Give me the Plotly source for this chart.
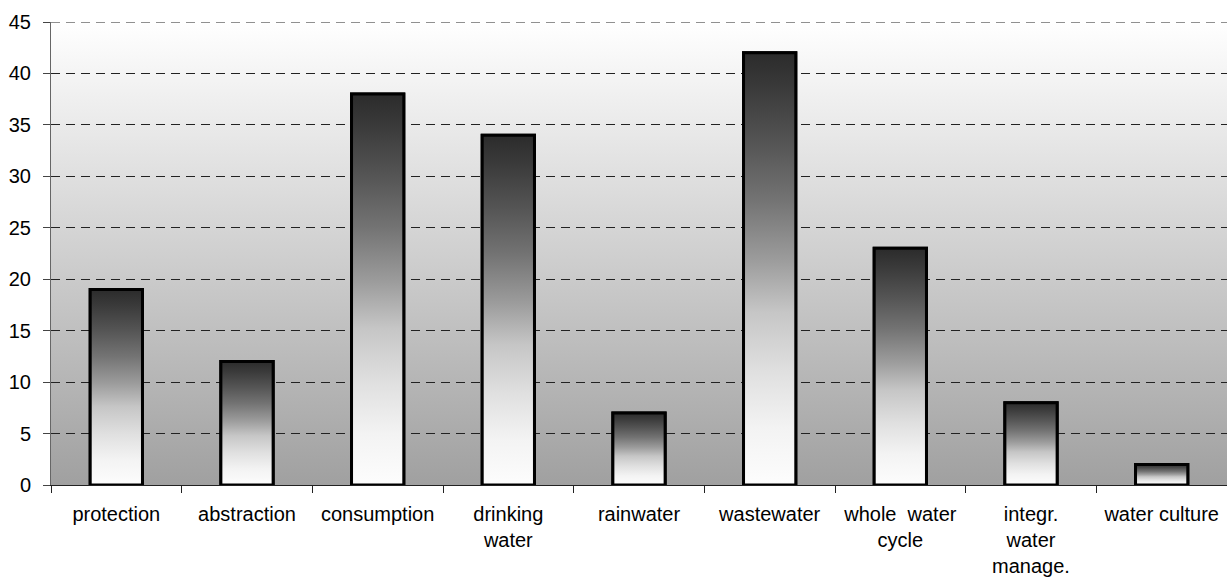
import base64
import plotly.graph_objects as go

categories = ["protection", "abstraction", "consumption", "drinking<br>water", "rainwater",
              "wastewater", "whole  water<br>cycle", "integr.<br>water<br>manage.", "water culture"]
values = [19, 12, 38, 34, 7, 42, 23, 8, 2]
y_ticks = [0, 5, 10, 15, 20, 25, 30, 35, 40, 45]

FONT = dict(family="Liberation Sans, Arial, sans-serif", size=20, color="black")
HALF = 0.2  # half bar width in category units

bar_scale = [[0.0, "#fdfdfd"], [0.13, "#f3f3f3"], [0.26, "#e0e0e0"], [0.40, "#c6c6c6"],
             [0.52, "#9c9c9c"], [0.66, "#737373"], [0.79, "#555555"], [0.92, "#3a3a3a"],
             [1.0, "#2b2b2b"]]

fig = go.Figure()
xs = list(range(len(categories)))

# bar outlines (library bars)
fig.add_trace(go.Bar(x=xs, y=values, width=2 * HALF,
                     marker=dict(color="rgba(0,0,0,0)", line=dict(color="black", width=3)),
                     showlegend=False, cliponaxis=False))

# gradient fill for each bar (one trace per bar so gradient spans 0..value)
for i, v in zip(xs, values):
    fig.add_trace(go.Scatter(
        x=[i - HALF, i - HALF, i + HALF, i + HALF, i - HALF],
        y=[0, v, v, 0, 0],
        mode="lines", fill="toself", line=dict(width=3, color="black"),
        fillgradient=dict(type="vertical", colorscale=bar_scale, start=0, stop=v),
        hoverinfo="skip", showlegend=False, cliponaxis=False))

svg = ('<svg xmlns="http://www.w3.org/2000/svg" width="100" height="100" preserveAspectRatio="none">'
       '<defs><linearGradient id="g" x1="0" y1="0" x2="0" y2="1">'
       '<stop offset="0" stop-color="#ffffff"/><stop offset="1" stop-color="#a0a0a0"/>'
       '</linearGradient></defs><rect width="100" height="100" fill="url(#g)"/></svg>')
src = "data:image/svg+xml;base64," + base64.b64encode(svg.encode()).decode()

fig.update_layout(
    width=1227, height=579,
    margin=dict(l=51, r=0, t=22, b=94, autoexpand=False),
    paper_bgcolor="white", plot_bgcolor="rgba(0,0,0,0)",
    font=FONT,
    images=[dict(source=src, xref="paper", yref="paper", x=0, y=1, sizex=1, sizey=1,
                 sizing="stretch", layer="below", xanchor="left", yanchor="top")],
    shapes=[dict(type="line", xref="paper", x0=0, x1=1, yref="y", y0=y_ticks[-1], y1=y_ticks[-1],
                 line=dict(color="#222", width=1, dash="9px,6px"), layer="below")],
    xaxis=dict(range=[-0.5, len(categories) - 0.5], tickmode="array", tickvals=xs,
               ticktext=categories, ticks="", showgrid=False, zeroline=False,
               showline=True, linecolor="#222", linewidth=1, ticklabelstandoff=11,
               automargin=False,
               minor=dict(tick0=-0.5, dtick=1, ticks="outside", ticklen=7,
                          tickcolor="#222", showgrid=False),
               fixedrange=True),
    yaxis=dict(range=[0, 45], tickmode="array", tickvals=y_ticks, ticks="outside",
               ticklen=7, tickcolor="#444", showline=True, linecolor="#666", linewidth=1,
               showgrid=True, gridcolor="#222", griddash="9px,6px", gridwidth=1,
               zeroline=False, ticklabelstandoff=8, automargin=False, fixedrange=True),
    bargap=0.6,
)

fig.write_html("out.html", config={"displayModeBar": False},
               post_script="document.body.style.margin='0';document.body.style.overflow='hidden';")
